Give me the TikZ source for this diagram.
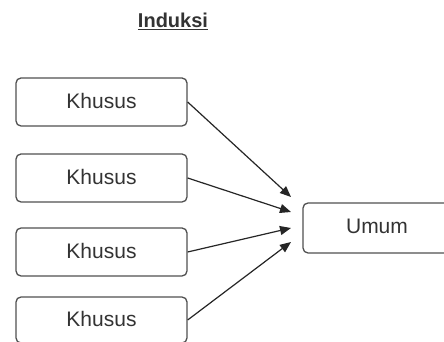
\documentclass[tikz,border=0pt]{standalone}
\usepackage{fontspec}
\setmainfont{Liberation Sans}
\usetikzlibrary{arrows.meta}
\definecolor{edgegray}{HTML}{505050}
\definecolor{txtgray}{HTML}{333333}
\begin{document}
\begin{tikzpicture}[x=1pt,y=1pt,
  box/.style={draw=edgegray, line width=1.3pt, rounded corners=5pt, minimum width=171pt, minimum height=48pt, inner sep=0pt, text=txtgray, font=\fontsize{21}{24}\selectfont, text depth=3pt},
  link/.style={draw=black!85, line width=1.2pt, -{Triangle[length=11pt,width=9pt]}}]
\useasboundingbox (0,0) rectangle (444,342);
\fill[white] (0,0) rectangle (444,342);
\node[text=txtgray, font=\bfseries\fontsize{20}{24}\selectfont] (title) at (173,321) {\underline{Induksi}};
\node[box] (k1) at (101.5,240) {Khusus};
\node[box] (k2) at (101.5,164) {Khusus};
\node[box] (k3) at (101.5,90) {Khusus};
\node[box, minimum height=46pt] (k4) at (101.5,22) {Khusus};
\node[box, minimum width=148pt, minimum height=50pt] (um) at (377,114) {Umum};
\coordinate (e1) at (291,145);
\coordinate (e2) at (291,130);
\coordinate (e3) at (291,114);
\coordinate (e4) at (291,100);
\draw[link] (k1.east) -- (e1);
\draw[link] (k2.east) -- (e2);
\draw[link] (k3.east) -- (e3);
\draw[link] (k4.east) -- (e4);
\end{tikzpicture}
\end{document}
